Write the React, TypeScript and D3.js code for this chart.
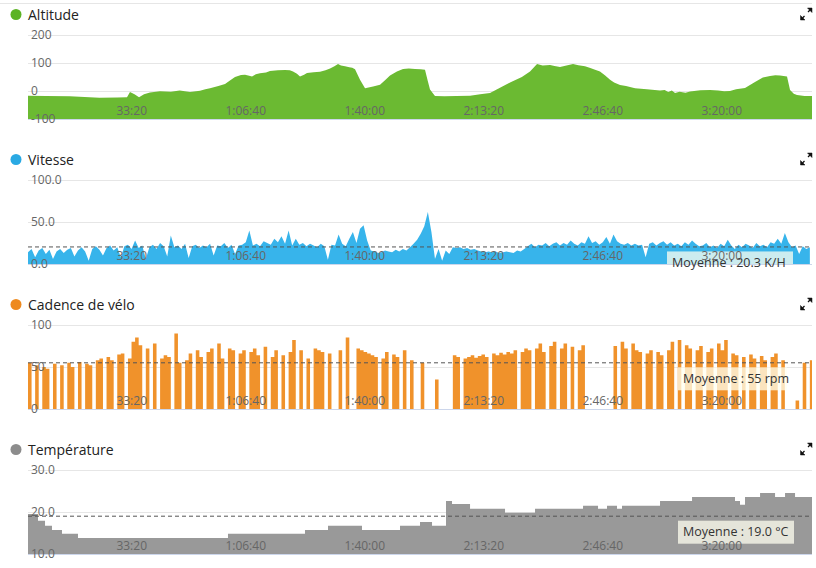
import React from 'react';
import * as d3 from 'd3';

// ---------- DATA ----------
const TIME_END = 13176; // seconds
const xTickValues = [2000, 4000, 6000, 8000, 10000, 12000];

const altTime = [0, 300, 700, 1200, 1500, 1664, 1714, 1790, 1866, 1950, 2050, 2218, 2400, 2550, 2723, 2891, 2980, 3059, 3200, 3311, 3400, 3479, 3580, 3647, 3700, 3765, 3830, 3899, 4000, 4067, 4200, 4319, 4400, 4454, 4520, 4571, 4640, 4689, 4800, 4908, 5000, 5076, 5150, 5210, 5260, 5328, 5400, 5450, 5496, 5580, 5664, 5800, 5916, 6000, 6084, 6200, 6303, 6400, 6504, 6600, 6672, 6720, 6756, 6840, 7000, 7200, 7429, 7600, 7765, 7900, 8101, 8300, 8437, 8555, 8650, 8773, 8850, 8941, 9050, 9160, 9250, 9361, 9450, 9530, 9613, 9700, 9782, 9850, 9950, 10050, 10202, 10400, 10622, 10700, 10760, 10820, 10874, 10950, 11050, 11126, 11300, 11462, 11600, 11700, 11798, 11900, 12050, 12218, 12350, 12471, 12560, 12639, 12756, 12790, 12807, 12870, 12924, 13050, 13176];
const altValue = [-17, -18, -19, -24, -23, -22, -4, -12, -22, -12, -5, -1, -3, 2, -4, 1, 6, 10, 18, 25, 38, 50, 57, 58, 55, 52, 60, 63, 66, 71, 74, 75, 74, 70, 62, 52, 58, 64, 67, 69, 74, 80, 88, 96, 91, 88, 85, 83, 78, 40, 10, 16, 22, 38, 55, 70, 79, 80, 79, 78, 76, 35, 5, -18, -19, -18, -17, -12, -7, 8, 30, 50, 70, 96, 91, 93, 89, 86, 91, 96, 92, 88, 82, 76, 70, 55, 40, 30, 21, 18, 10, 6, 2, 4, -4, 2, -7, -3, -6, -2, 3, 4, 2, -1, 0, 6, 11, 32, 48, 54, 56, 55, 52, 20, 4, -10, -14, -18, -18];

const SAMPLE_STEP = 60; // seconds between speed / cadence samples

const speedValues = [
  14, 18, 8, 16, 19, 12, 17, 6, 15, 18,
  13, 17, 19, 9, 16, 20, 15, 4, 18, 21,
  17, 10, 19, 22, 16, 20, 8, 21, 23, 18,
  28, 19, 22, 6, 20, 23, 18, 25, 21, 9,
  34, 20, 22, 18, 24, 7, 21, 23, 19, 22,
  20, 24, 10, 22, 21, 25, 19, 23, 12, 22,
  23, 26, 40, 22, 24, 21, 27, 25, 23, 30,
  26, 33, 24, 40, 22, 30, 23, 25, 21, 24,
  22, 20, 24, 21, 5, 23, 22, 35, 24, 21,
  30, 38, 25, 42, 46, 28, 16, 15, 13, 14,
  16, 15, 14, 17, 15, 18, 16, 20, 24, 29,
  36, 45, 62, 38, 6, 18, 4, 16, 12, 20,
  19, 20, 18, 19, 17, 18, 16, 15, 14, 15,
  14, 15, 13, 14, 15, 14, 13, 16, 15, 18,
  21, 24, 20, 23, 22, 25, 21, 24, 26, 22,
  25, 23, 28, 24, 22, 26, 24, 33, 25, 27,
  23, 26, 32, 24, 35, 27, 24, 23, 25, 22,
  24, 22, 23, 8, 24, 26, 22, 25, 27, 23,
  26, 22, 24, 21, 26, 23, 28, 24, 21, 22,
  25, 20, 22, 19, 24, 21, 29, 22, 18, 23,
  20, 24, 22, 19, 25, 21, 23, 20, 26, 24,
  30, 24, 37, 26, 20, 22, 12, 21, 18, 20,
];

const cadenceValues = [
  55, 0, 52, 0, 50, 48, 0, 54, 0, 52,
  0, 55, 50, 0, 56, 0, 54, 52, 0, 58,
  60, 0, 62, 58, 0, 65, 66, 0, 60, 80,
  85, 76, 0, 72, 0, 78, 0, 60, 64, 62,
  0, 90, 55, 0, 58, 66, 0, 70, 62, 0,
  68, 72, 0, 78, 60, 0, 72, 70, 0, 66,
  70, 0, 68, 72, 64, 0, 74, 0, 62, 70,
  0, 64, 0, 68, 82, 0, 70, 0, 60, 0,
  72, 70, 68, 0, 66, 0, 0, 70, 0, 85,
  0, 0, 72, 70, 68, 66, 64, 62, 0, 60,
  68, 0, 65, 62, 0, 70, 0, 58, 0, 0,
  55, 0, 0, 0, 35, 0, 0, 0, 0, 64,
  62, 0, 60, 62, 64, 61, 63, 65, 62, 0,
  66, 64, 67, 65, 68, 66, 70, 0, 68, 72,
  70, 0, 72, 78, 68, 0, 75, 80, 0, 72,
  78, 0, 74, 0, 70, 76, 0, 0, 0, 0,
  0, 0, 0, 0, 75, 0, 80, 72, 0, 78,
  70, 68, 0, 66, 70, 0, 68, 64, 0, 70,
  80, 0, 82, 0, 76, 72, 0, 70, 75, 0,
  68, 72, 0, 78, 70, 82, 0, 66, 64, 0,
  62, 0, 65, 60, 0, 63, 58, 0, 62, 66,
  0, 58, 0, 0, 0, 10, 0, 55, 0, 58,
];

const tempTime = [0, 168, 286, 403, 571, 840, 3361, 4655, 5042, 5613, 6252, 6588, 6790, 7025, 7126, 7429, 8017, 8521, 9328, 9580, 9731, 9899, 9983, 10622, 11160, 11882, 11966, 12050, 12303, 12555, 12723, 12891, 13176];
const tempValue = [19.5, 17.9, 16.7, 15.7, 14.8, 13.8, 14.8, 15.7, 16.7, 15.7, 16.7, 17.6, 16.7, 22.6, 21.9, 20.8, 19.8, 20.8, 21.5, 20.8, 21.5, 20.8, 21.5, 22.6, 23.6, 22.6, 21.7, 23.6, 24.5, 23.6, 24.5, 23.6, 23.6];

const panelTitles = ['Altitude', 'Vitesse', 'Cadence de vélo', 'Température'];
const altTicks = [-100, 0, 100, 200];
const speedTicks = [0, 50, 100];
const cadenceTicks = [0, 50, 100];
const tempTicks = [10, 20, 30];
const speedAvg = 20.3;
const cadenceAvg = 55;
const tempAvg = 19.0;

// ---------- HELPERS ----------
type Pt = { t: number; v: number };

const fmtTime = (s: number) => {
  const h = Math.floor(s / 3600);
  const m = Math.floor((s % 3600) / 60);
  const sec = Math.floor(s % 60);
  const p = (n: number) => String(n).padStart(2, '0');
  return h > 0 ? `${h}:${p(m)}:${p(sec)}` : `${m}:${p(sec)}`;
};

const FONT = '"Open Sans", "DejaVu Sans", sans-serif';
const X0 = 28;
const X1 = 812;
const PANEL_H = 145;

const altData: Pt[] = altTime.map((t, i) => ({ t, v: altValue[i] }));
const speedData: Pt[] = speedValues.map((v, i) => ({ t: i * SAMPLE_STEP, v }));
const cadenceData: Pt[] = cadenceValues.map((v, i) => ({ t: i * SAMPLE_STEP, v }));
cadenceData.push({ t: TIME_END, v: cadenceValues[cadenceValues.length - 1] });
const tempData: Pt[] = tempTime.map((t, i) => ({ t, v: tempValue[i] }));

const panels = [
  { title: panelTitles[0], fill: '#6bba32', dot: '#5cb324', domain: [-100, 200], ticks: altTicks, fmt: (v: number) => String(v), data: altData, curve: d3.curveLinear, avg: null as number | null, label: '', boxX: 0, boxW: 0 },
  { title: panelTitles[1], fill: '#37b4eb', dot: '#2aa9e3', domain: [0, 100], ticks: speedTicks, fmt: (v: number) => v.toFixed(1), data: speedData, curve: d3.curveLinear, avg: speedAvg, label: `Moyenne : ${speedAvg.toFixed(1)} K/H`, boxX: 667, boxW: 126 },
  { title: panelTitles[2], fill: '#f0922b', dot: '#ee8a1e', domain: [0, 100], ticks: cadenceTicks, fmt: (v: number) => String(v), data: cadenceData, curve: d3.curveStepAfter, avg: cadenceAvg, label: `Moyenne : ${cadenceAvg} rpm`, boxX: 678, boxW: 109 },
  { title: panelTitles[3], fill: '#999999', dot: '#8c8c8c', domain: [10, 30], ticks: tempTicks, fmt: (v: number) => v.toFixed(1), data: tempData, curve: d3.curveStepAfter, avg: tempAvg, label: `Moyenne : ${tempAvg.toFixed(1)} °C`, boxX: 678, boxW: 116 },
];

const x = d3.scaleLinear().domain([0, TIME_END]).range([X0, X1]);

function ExpandIcon({ cy }: { cy: number }) {
  return (
    <g fill="#111" stroke="#111">
      <path d={`M812,${cy - 7} L807.5,${cy - 7} L812,${cy - 2.5} Z`} strokeWidth={0.5} />
      <line x1={810} y1={cy - 5} x2={808} y2={cy - 3} strokeWidth={1.3} />
      <path d={`M800.5,${cy + 5} L800.5,${cy + 0.5} L805,${cy + 5} Z`} strokeWidth={0.5} />
      <line x1={802.5} y1={cy + 3} x2={804.5} y2={cy + 1} strokeWidth={1.3} />
    </g>
  );
}

function Panel({ p, idx }: { p: (typeof panels)[number]; idx: number }) {
  const off = idx * PANEL_H;
  const top = 35 + off;
  const bottom = 119 + off;
  const y = d3.scaleLinear().domain(p.domain).range([bottom, top]);
  const area = d3
    .area<Pt>()
    .x((d) => x(d.t))
    .y0(bottom)
    .y1((d) => y(d.v))
    .curve(p.curve);
  const clipId = `clip-${idx}`;
  const avgY = p.avg !== null ? y(p.avg) : 0;
  return (
    <g>
      <defs>
        <clipPath id={clipId}>
          <rect x={X0} y={top - 1} width={X1 - X0} height={bottom - top + 1} />
        </clipPath>
      </defs>
      <circle cx={16} cy={14.5 + off} r={5.5} fill={p.dot} />
      <text x={28} y={20 + off} fontFamily={FONT} fontSize={14} fill="#222">
        {p.title}
      </text>
      <ExpandIcon cy={15 + off} />
      {p.ticks.map((t) => (
        <line key={t} x1={X0} x2={X1} y1={Math.round(y(t)) + 0.5} y2={Math.round(y(t)) + 0.5} stroke="#e6e6e6" strokeWidth={1} />
      ))}
      <path d={area(p.data) || ''} fill={p.fill} clipPath={`url(#${clipId})`} />
      <line x1={X0} x2={X1} y1={bottom + 0.5} y2={bottom + 0.5} stroke="#ccd6eb" strokeWidth={1} />
      {p.avg !== null && (
        <g>
          <line x1={X0} x2={X1} y1={avgY} y2={avgY} stroke="#555" strokeWidth={1} strokeDasharray="4,3" />
          <rect x={p.boxX} y={avgY + 4.5} width={p.boxW} height={23} fill="rgba(255,255,240,0.75)" clipPath={`url(#${clipId})`} />
          <text x={p.boxX + 5} y={avgY + 20} fontFamily={FONT} fontSize={12.5} fill="#333">
            {p.label}
          </text>
        </g>
      )}
      {p.ticks.map((t) => (
        <text key={t} x={31} y={y(t) + 4} fontFamily={FONT} fontSize={12} fill="#666">
          {p.fmt(t)}
        </text>
      ))}
      {xTickValues.map((t) => (
        <text key={t} x={x(t)} y={bottom - 4} textAnchor="end" fontFamily={FONT} fontSize={12} fill="#666">
          {fmtTime(t)}
        </text>
      ))}
    </g>
  );
}

export default function App() {
  return (
    <svg width={816} height={568} style={{ position: 'absolute', left: 0, top: 0, background: '#fff' }}>
      <rect x={0} y={0} width={816} height={568} fill="#fff" />
      <line x1={0} x2={812} y1={3.5} y2={3.5} stroke="#e6e6e6" strokeWidth={1} />
      {panels.map((p, i) => (
        <Panel key={p.title} p={p} idx={i} />
      ))}
    </svg>
  );
}
